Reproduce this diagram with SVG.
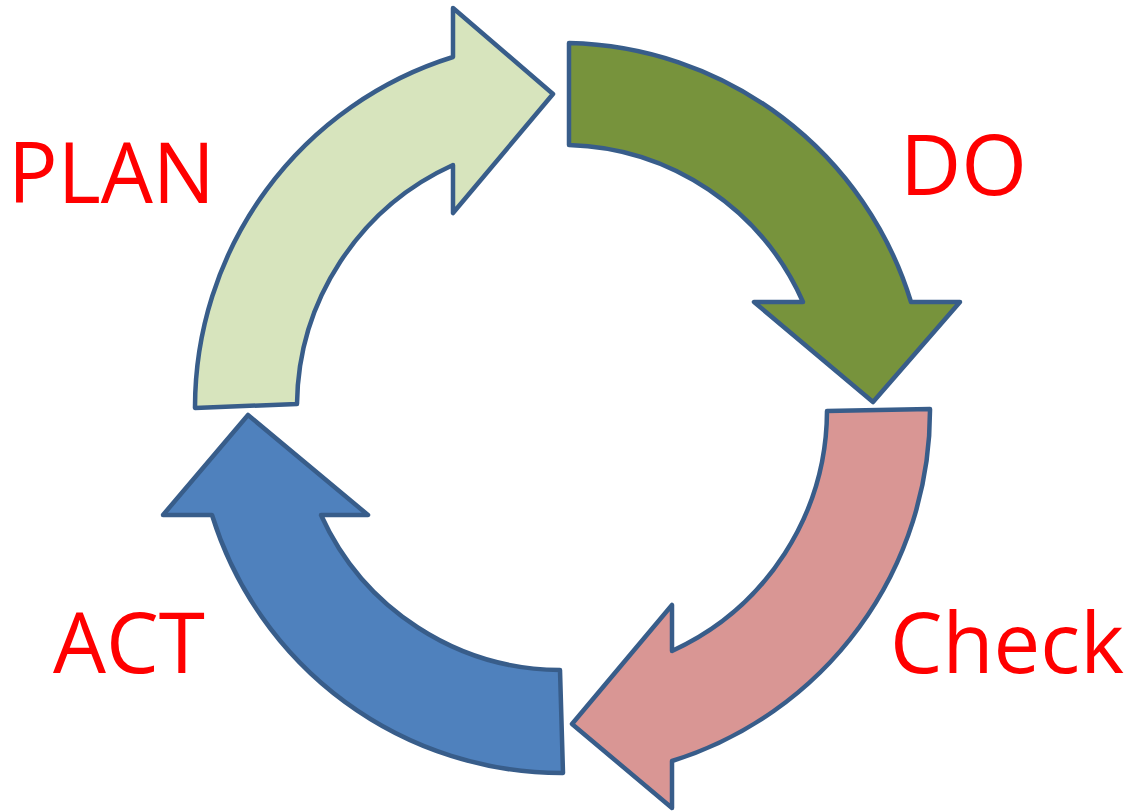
<svg xmlns="http://www.w3.org/2000/svg" width="1132" height="812" viewBox="0 0 1132 812">
  <style>
    .arrow { stroke: #385D8A; stroke-width: 4.5; stroke-linejoin: round; }
    .label { font-family: "Open Sans", "Liberation Sans", Arial, sans-serif; font-size: 84px; fill: #FF0000; }
  </style>
  <rect width="1132" height="812" fill="#FFFFFF"/>
  <!-- four curved arrows around the centre (563,408): outer r≈367, inner r≈266 -->
  <g id="connectors">
    <g id="plan-arrow">
      <path class="arrow" fill="#D7E4BD" d="M195,408 A367,367 0 0 1 453,57 L453,8 L553,94 L453,213 L453,165 A266,266 0 0 0 297,404 Z"/>
    </g>
    <g id="do-arrow">
      <path class="arrow" fill="#77933C" d="M569,43 A366,366 0 0 1 911,302 L960,302 L873,402 L754,302 L803,302 A264,264 0 0 0 569,145 Z"/>
    </g>
    <g id="check-arrow">
      <path class="arrow" fill="#D99694" d="M930,409 A367,367 0 0 1 672,761 L672,808 L572,724 L672,605 L672,651 A265,265 0 0 0 827,411 Z"/>
    </g>
    <g id="act-arrow">
      <path class="arrow" fill="#4F81BD" d="M563,773 A366,366 0 0 1 212,515 L163,515 L248,415 L368,515 L321,515 A264,264 0 0 0 560,670 Z"/>
    </g>
  </g>
  <g id="plan"><text class="label" x="8" y="203" textLength="207" lengthAdjust="spacingAndGlyphs">PLAN</text></g>
  <g id="do"><text class="label" x="900" y="195" textLength="127" lengthAdjust="spacingAndGlyphs">DO</text></g>
  <g id="check"><text class="label" x="890" y="673" textLength="234" lengthAdjust="spacingAndGlyphs">Check</text></g>
  <g id="act"><text class="label" x="53" y="673" textLength="152" lengthAdjust="spacingAndGlyphs">ACT</text></g>
</svg>
